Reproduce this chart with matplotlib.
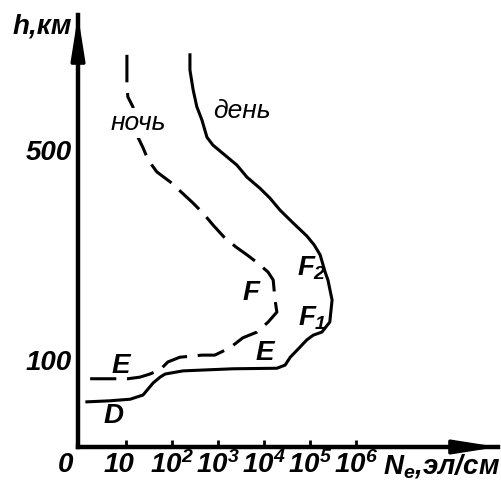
import matplotlib
matplotlib.use("Agg")
import matplotlib.pyplot as plt

plt.rcParams["font.family"] = ["Liberation Sans", "DejaVu Sans"]
plt.rcParams["mathtext.fontset"] = "custom"
plt.rcParams["mathtext.rm"] = "Liberation Sans:bold:italic"
plt.rcParams["mathtext.it"] = "Liberation Sans:bold:italic"
plt.rcParams["mathtext.bf"] = "Liberation Sans:bold:italic"

# Electron density profiles: log10(Ne) versus height h (km)
day_logn = [2.39, 2.39, 2.46, 2.54, 2.65, 2.76, 2.89, 3.15, 3.41, 3.63, 3.91,
            4.13, 4.35, 4.63, 4.93, 5.09, 5.22, 5.33, 5.39, 5.48, 5.43, 5.26,
            5.07, 4.93, 4.78, 4.57, 4.46, 4.28, 3.33, 2.24, 1.85, 1.74, 1.59,
            1.37, 1.09, 0.65, 0.15]
day_h = [687, 658, 620, 588, 563, 530, 515, 496, 477, 454, 433,
         414, 391, 367, 342, 325, 306, 273, 258, 220, 178, 159,
         153, 144, 130, 111, 96, 90, 89, 85, 79, 73, 62,
         39, 31, 28, 26]

night_logn = [1.02, 1.02, 1.02, 1.04, 1.15, 1.26, 1.37, 1.48, 1.67, 1.96,
              2.22, 2.43, 2.67, 2.89, 3.15, 3.39, 3.63, 3.87, 4.09, 4.20,
              4.24, 4.28, 4.09, 3.85, 3.54, 3.26, 2.93, 2.65, 2.17, 1.91,
              1.74, 1.52, 1.30, 1.04, 0.80, 0.22]
night_h = [687, 662, 630, 607, 588, 530, 510, 487, 464, 445,
           424, 407, 386, 363, 338, 321, 306, 290, 273, 258,
           220, 197, 178, 159, 148, 129, 115, 115, 111, 102,
           87, 79, 73, 70, 70, 70]

xtick_pos = [0, 1, 2, 3, 4, 5, 6]
xtick_labels = ["0", "10", "$10^2$", "$10^3$", "$10^4$", "$10^5$", "$10^6$"]
ytick_pos = [100, 500]
ytick_labels = ["100", "500"]

bold = dict(fontweight="bold", fontstyle="italic", fontsize=20)

fig = plt.figure(figsize=(5.01, 4.80), dpi=100)
ax = fig.add_axes([78 / 501, 33 / 480, 420 / 501, 432 / 480])
ax.set_xlim(-2 / 46, 418 / 46)
ax.set_ylim(-60, 100 + 348 / 0.525)

for side in ("top", "right"):
    ax.spines[side].set_visible(False)
for side in ("left", "bottom"):
    ax.spines[side].set_linewidth(3.2)
    ax.spines[side].set_color("black")

# arrowheads on both axes
arrow = dict(arrowstyle="-|>,head_length=0.95,head_width=0.15", color="black",
             lw=2.5, mutation_scale=28, shrinkA=0, shrinkB=0)
ax.annotate("", xy=(0, 1.0), xytext=(0, 0.88), xycoords="axes fraction",
            arrowprops=arrow, annotation_clip=False)
ax.annotate("", xy=(1.0, 0), xytext=(0.88, 0), xycoords="axes fraction",
            arrowprops=arrow, annotation_clip=False)

ax.set_xticks(xtick_pos[1:])
ax.tick_params(axis="x", direction="in", length=5, width=2, labelbottom=False)
ax.set_yticks([])

for pos, lab in zip(xtick_pos, xtick_labels):
    ax.annotate(lab, xy=(pos, 0), xycoords=("data", "axes fraction"),
                xytext=(-22, -18), textcoords="offset pixels",
                ha="left", va="center", annotation_clip=False, **bold)
for pos, lab in zip(ytick_pos, ytick_labels):
    ax.annotate(lab, xy=(0, pos), xycoords=("axes fraction", "data"),
                xytext=(-6, 0), textcoords="offset pixels",
                ha="right", va="center", annotation_clip=False, **bold)

# profiles
ax.plot(day_logn, day_h, color="black", lw=2.2, clip_on=False, zorder=3)
ax.plot(night_logn, night_h, color="black", lw=2.2, clip_on=False,
        dashes=(9, 3.5), zorder=3)

# curve captions
ax.text(1.26, 557, "ночь", fontstyle="italic", fontsize=19, ha="center",
        va="center", zorder=5,
        bbox=dict(boxstyle="square,pad=0.1", fc="white", ec="none"))
ax.text(3.52, 580, "день", fontstyle="italic", fontsize=19, ha="center",
        va="center", zorder=5)

# layer labels
ax.text(4.72, 281, "$F_2$", ha="left", va="center", **bold)
ax.text(4.74, 186, "$F_1$", ha="left", va="center", **bold)
ax.text(3.72, 233, "F", ha="center", va="center", **bold)
ax.text(4.02, 119, "E", ha="center", va="center", **bold)
ax.text(0.89, 94, "E", ha="center", va="center", **bold)
ax.text(0.72, -1, "D", ha="center", va="center", **bold)

# axis titles
fig.text(42 / 501, 1 - 27 / 480, "h,км", ha="center", va="center", **bold)
ax.annotate("$N_e$,эл/см", xy=(383 / 501, 1 - 474 / 480),
            xycoords="figure fraction", ha="left", va="baseline",
            annotation_clip=False, **bold)

fig.savefig("out.png", dpi=100)
